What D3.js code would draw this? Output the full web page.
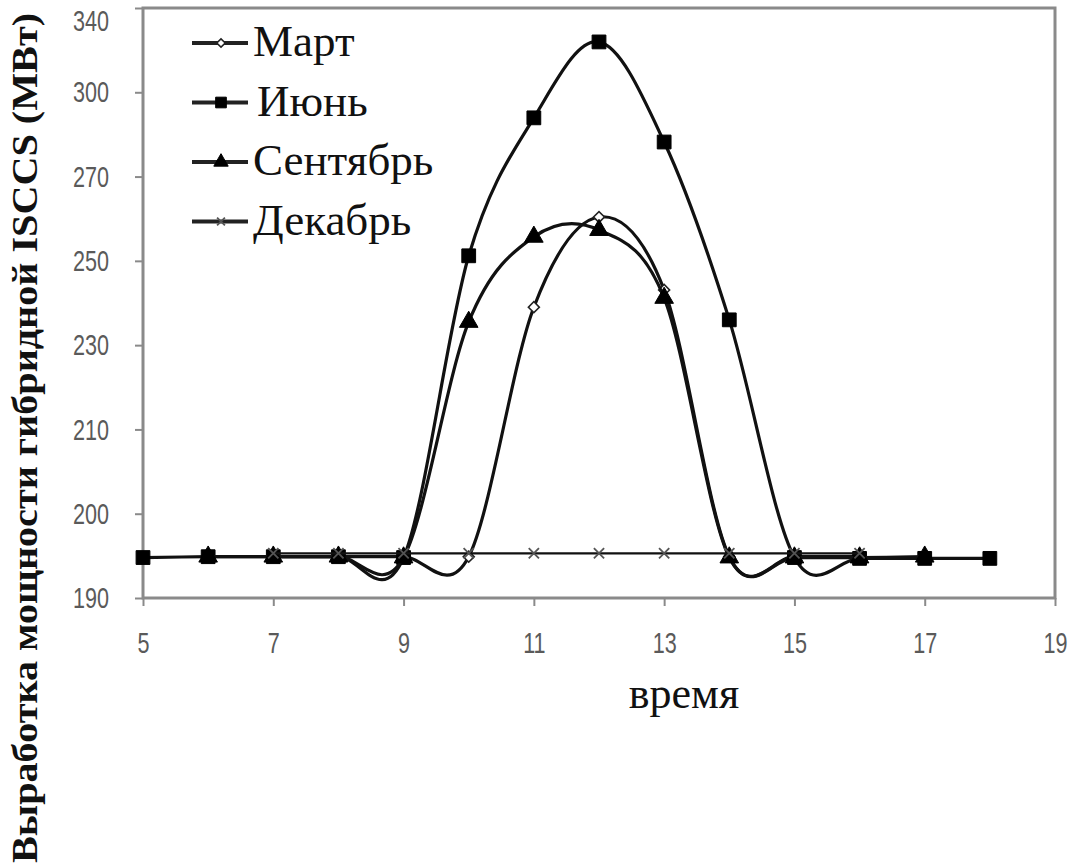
<!DOCTYPE html>
<html>
<head>
<meta charset="utf-8">
<script src="https://cdn.jsdelivr.net/npm/d3@7"></script>
<style>
  body { margin: 0; background: #fff; }
  svg { display: block; }
</style>
</head>
<body>
<svg id="chart" width="1070" height="867"></svg>
<script>
// Hourly output of the hybrid ISCCS plant (MW) for four months
const marchHours = [7, 8, 9, 10, 11, 12, 13, 14, 15, 16];
const marchValues = [194.9, 194.9, 194.9, 194.9, 239, 260.4, 243.1, 194.9, 194.9, 194.9];

const juneHours = [5, 6, 7, 8, 9, 10, 11, 12, 13, 14, 15, 16, 17, 18];
const juneValues = [194.8, 194.9, 194.9, 194.9, 194.8, 251.2, 290.9, 323.9, 282.3, 236, 194.8, 194.7, 194.7, 194.7];

const septHours = [6, 7, 8, 9, 10, 11, 12, 13, 14, 15, 16, 17];
const septValues = [194.9, 194.9, 194.9, 194.8, 235.5, 255.7, 257.3, 241.2, 194.8, 194.8, 194.8, 194.9];

const decHours = [7, 8, 9, 10, 11, 12, 13, 14, 15, 16];
const decValues = [195.3, 195.3, 195.3, 195.3, 195.3, 195.3, 195.3, 195.3, 195.3, 195.3];

const monthNames = ["Март", "Июнь", "Сентябрь", "Декабрь"];
const xTicks = [5, 7, 9, 11, 13, 15, 17, 19];
const yTicks = [190, 200, 210, 230, 250, 270, 300, 340];

const xTitle = "время";
const yTitle = "Выработка мощности гибридной ISCCS (МВт)";

const series = [
  { name: monthNames[0], hours: marchHours, values: marchValues, marker: "diamond" },
  { name: monthNames[1], hours: juneHours, values: juneValues, marker: "square" },
  { name: monthNames[2], hours: septHours, values: septValues, marker: "triangle" },
  { name: monthNames[3], hours: decHours, values: decValues, marker: "cross" }
];

const svg = d3.select("#chart");
const plot = { left: 143, right: 1055, top: 8, bottom: 598 };

const x = d3.scaleLinear().domain([5, 19]).range([plot.left, plot.right]);

// The value axis places its irregular tick values at equal spacing
const yStep = (plot.bottom - plot.top) / (yTicks.length - 1);
const y = d3.scaleLinear()
  .domain(yTicks)
  .range(yTicks.map((_, i) => plot.bottom - i * yStep));

const axisColor = "#8a8a8a";
const labelFont = "'Liberation Sans', 'DejaVu Sans', sans-serif";
const serif = "'Times New Roman', 'Liberation Serif', 'Noto Serif', 'DejaVu Serif', serif";
const narrow = 0.72;

// Frame around the plot area
svg.append("rect")
  .attr("x", plot.left).attr("y", plot.top)
  .attr("width", plot.right - plot.left).attr("height", plot.bottom - plot.top)
  .attr("fill", "none").attr("stroke", axisColor).attr("stroke-width", 3);

// Axes
const gx = svg.append("g")
  .attr("transform", `translate(0,${plot.bottom})`)
  .call(d3.axisBottom(x).tickValues(xTicks).tickSize(8).tickPadding(26).tickFormat(d3.format("d")));
const gy = svg.append("g")
  .attr("transform", `translate(${plot.left},0)`)
  .call(d3.axisLeft(y).tickValues(yTicks).tickSize(8).tickPadding(26).tickFormat(d3.format("d")));

[gx, gy].forEach(g => {
  g.select(".domain").remove();
  g.selectAll(".tick line").attr("stroke", axisColor).attr("stroke-width", 2);
  g.selectAll(".tick text")
    .attr("fill", "#5a5a5a")
    .style("font-family", labelFont)
    .style("font-size", "30px")
    .each(function () {
      // narrow, tall digits: squeeze horizontally around the tick
      const t = d3.select(this);
      const x0 = +t.attr("x") || 0;
      t.attr("x", x0 / narrow).attr("transform", `scale(${narrow},1)`);
    });
});
// keep the topmost value label inside the canvas
gy.selectAll(".tick text").filter(d => d === yTicks[yTicks.length - 1]).attr("dy", "0.75em");

// Series lines (smoothed)
const line = d3.line()
  .x(d => x(d[0]))
  .y(d => y(d[1]))
  .curve(d3.curveCardinal.tension(0));

function markerPath(kind, scale) {
  switch (kind) {
    case "square": return d3.symbol(d3.symbolSquare, 190 * scale)();
    case "triangle": return d3.symbol(d3.symbolTriangle, 150 * scale)();
    case "diamond": return d3.symbol(d3.symbolSquare, 60 * scale)();
    case "cross": return d3.symbol(d3.symbolX, 70 * scale)();
  }
}
function styleMarker(sel, kind) {
  if (kind === "diamond") {
    sel.attr("fill", "#fff").attr("stroke", "#222").attr("stroke-width", 1.6);
  } else if (kind === "cross") {
    sel.attr("fill", "none").attr("stroke", "#555").attr("stroke-width", 1.8);
  } else {
    sel.attr("fill", "#000").attr("stroke", "#000").attr("stroke-width", 1);
  }
}

series.forEach(s => {
  const pts = s.hours.map((h, i) => [h, s.values[i]]);
  const g = svg.append("g");
  g.append("path")
    .datum(pts)
    .attr("d", line)
    .attr("fill", "none")
    .attr("stroke", "#111")
    .attr("stroke-width", s.marker === "cross" ? 2.2 : 3.2)
    .attr("stroke-linejoin", "round");
  g.selectAll("path.mk")
    .data(pts)
    .join("path")
    .attr("class", "mk")
    .attr("d", markerPath(s.marker, 1))
    .attr("transform", d => `translate(${x(d[0])},${y(d[1])})${s.marker === "diamond" ? " rotate(45)" : ""}`)
    .call(styleMarker, s.marker);
});

// Legend
const legend = svg.append("g").attr("transform", "translate(192,43)");
const legendRows = legend.selectAll("g")
  .data(series)
  .join("g")
  .attr("transform", (d, i) => `translate(0,${i * 59.5})`);
legendRows.append("line")
  .attr("x1", 0).attr("x2", 56).attr("y1", 0).attr("y2", 0)
  .attr("stroke", "#222").attr("stroke-width", 4);
legendRows.append("path")
  .attr("d", d => markerPath(d.marker, 0.6))
  .attr("transform", d => `translate(29,0)${d.marker === "diamond" ? " rotate(45)" : ""}`)
  .each(function (d) { styleMarker(d3.select(this), d.marker); });
legendRows.append("text")
  .attr("x", (d, i) => i === 1 ? 65 : 61)
  .attr("y", 13)
  .attr("fill", "#111")
  .style("font-family", serif)
  .style("font-size", "45px")
  .text(d => d.name);

// Axis titles
svg.append("text")
  .attr("x", 684).attr("y", 708)
  .attr("text-anchor", "middle")
  .attr("fill", "#111")
  .style("font-family", serif)
  .style("font-size", "44px")
  .text(xTitle);

svg.append("text")
  .attr("transform", "translate(37,438) rotate(-90)")
  .attr("text-anchor", "middle")
  .attr("fill", "#111")
  .attr("textLength", 850)
  .attr("lengthAdjust", "spacingAndGlyphs")
  .style("font-family", serif)
  .style("font-weight", "bold")
  .style("font-size", "35px")
  .text(yTitle);
</script>
</body>
</html>
